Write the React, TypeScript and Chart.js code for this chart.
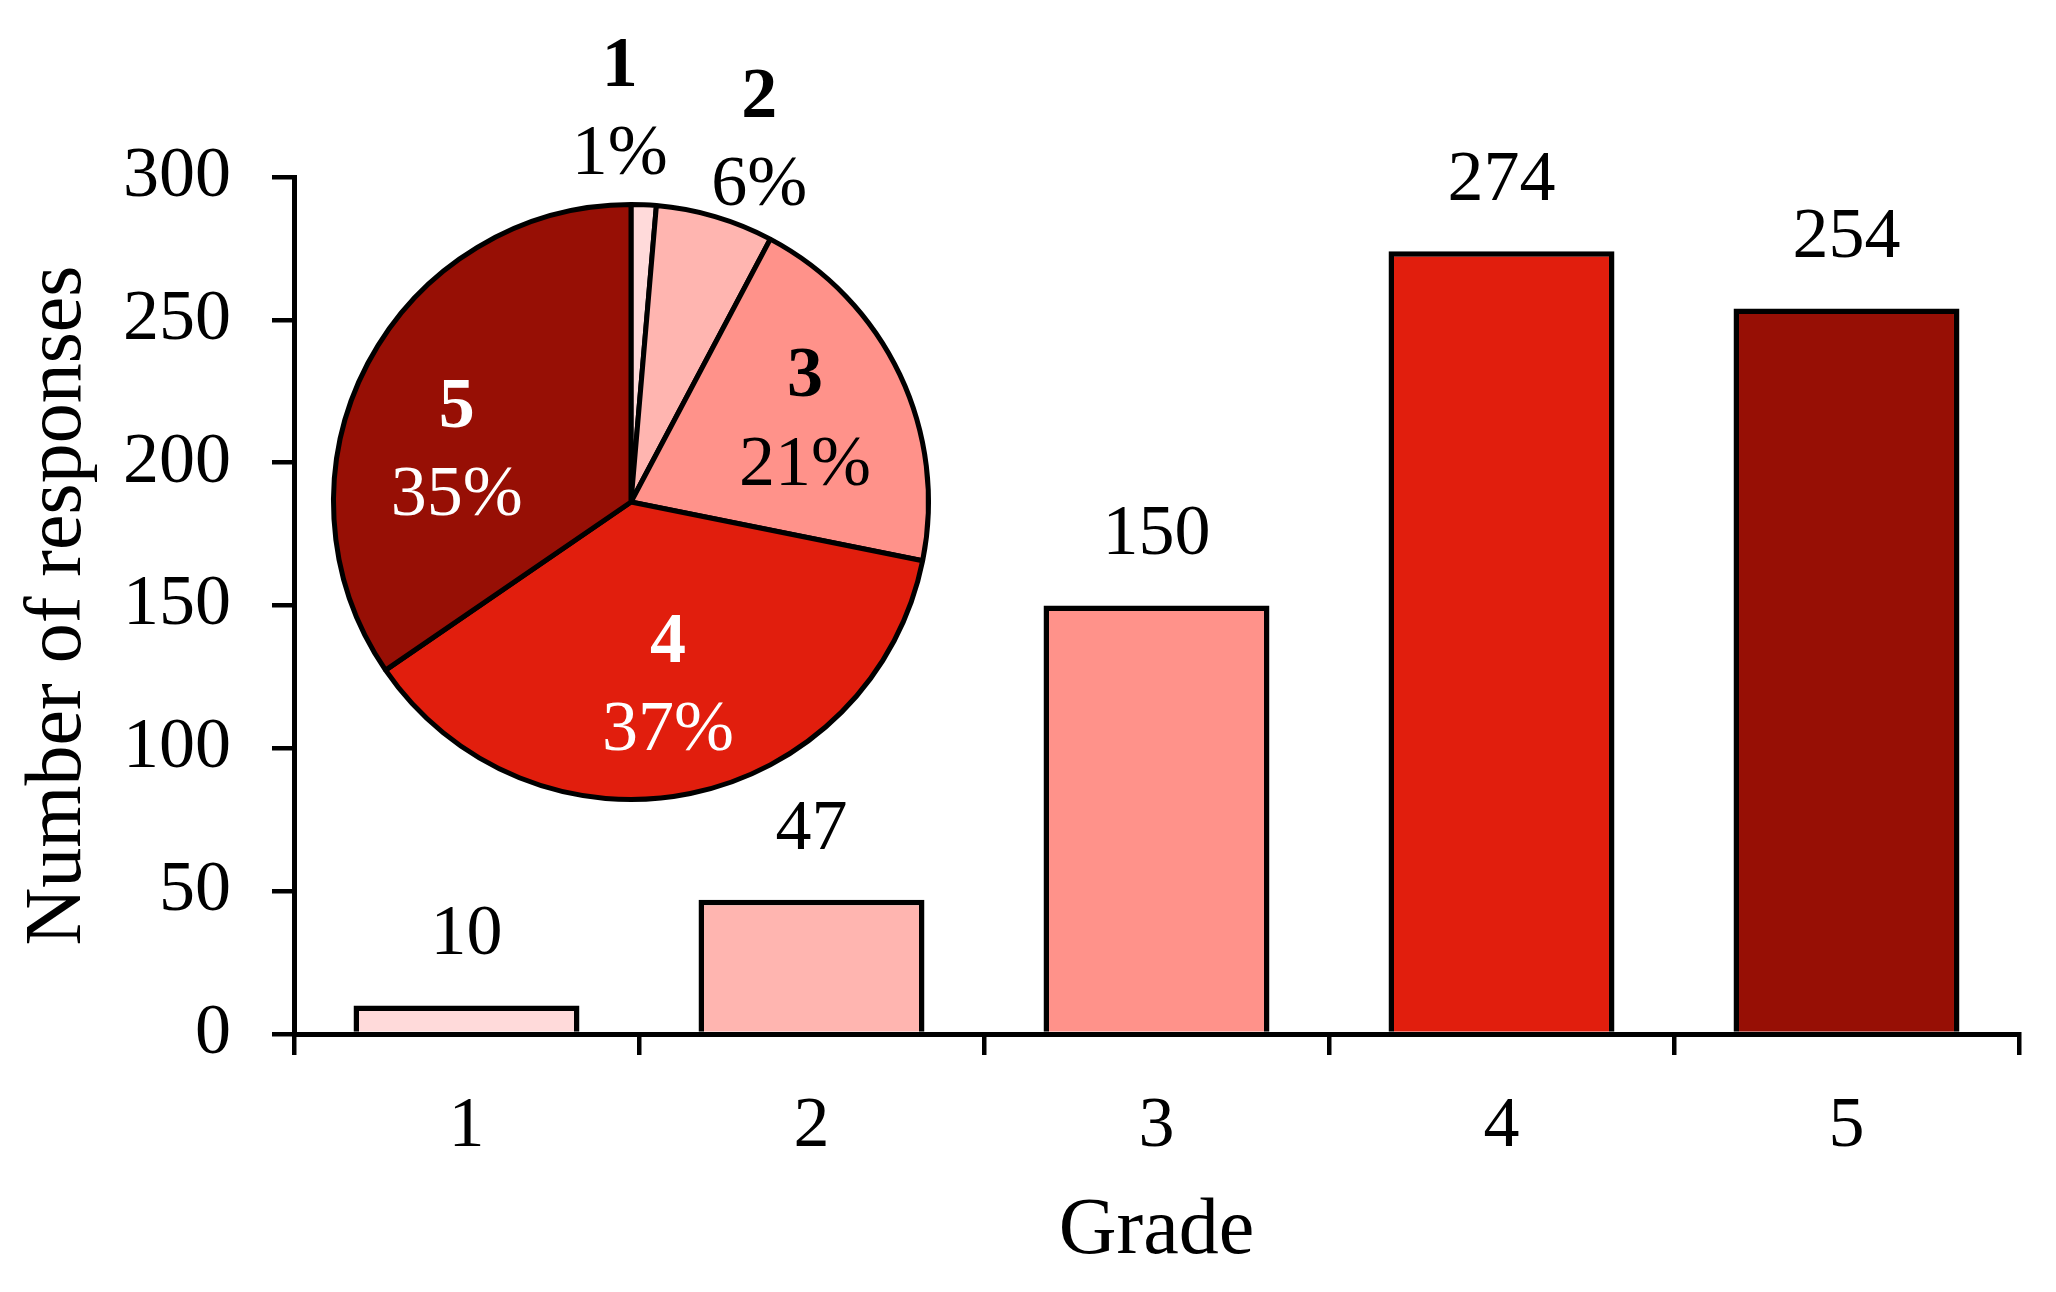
import { useEffect, useRef } from 'react';
import { Chart, registerables } from 'chart.js';

Chart.register(...registerables);

// ---- data ----
const grades = ['1', '2', '3', '4', '5'];
const responses = [10, 47, 150, 274, 254];
const gradeColors = ['#FFDADA', '#FFB5B0', '#FF928A', '#E11E0D', '#970F05'];
const piePercentLabels = ['1%', '6%', '21%', '37%', '35%'];
const pieLabelColors = ['#000000', '#000000', '#000000', '#FFFFFF', '#FFFFFF'];
const yMin = 0;
const yMax = 300;
const yStep = 50;

const FONT = '"Liberation Serif", "Times New Roman", serif';
const W = 2056;
const H = 1292;

// label placement for pie labels: angle shift from slice middle (deg) and radius factor
const pieLabelPlacement = [
  { shift: -4.1, factor: 1.305 },
  { shift: 3.2, factor: 1.275 },
  { shift: 0.6, factor: 0.64 },
  { shift: 0.2, factor: 0.63 },
  { shift: -11.8, factor: 0.605 },
];

const barLabelsPlugin = {
  id: 'barLabels',
  afterDatasetsDraw(chart: any) {
    const ctx = chart.ctx;
    const meta = chart.getDatasetMeta(0);
    ctx.save();
    ctx.font = `72px ${FONT}`;
    ctx.fillStyle = '#000';
    ctx.textAlign = 'center';
    ctx.textBaseline = 'middle';
    meta.data.forEach((el: any, i: number) => {
      ctx.fillText(String(responses[i]), el.x, el.y - 70);
    });
    ctx.restore();
  },
};

const pieLabelsPlugin = {
  id: 'pieLabels',
  afterDatasetsDraw(chart: any) {
    const ctx = chart.ctx;
    const meta = chart.getDatasetMeta(0);
    ctx.save();
    ctx.textAlign = 'center';
    ctx.textBaseline = 'middle';
    meta.data.forEach((arc: any, i: number) => {
      const p = arc.getProps(['x', 'y', 'startAngle', 'endAngle', 'outerRadius'], true);
      const pl = pieLabelPlacement[i];
      const a = (p.startAngle + p.endAngle) / 2 + (pl.shift * Math.PI) / 180;
      const r = (p.outerRadius + 2) * pl.factor;
      const cx = p.x + Math.cos(a) * r;
      const cy = p.y + Math.sin(a) * r;
      ctx.fillStyle = pieLabelColors[i];
      ctx.font = `bold 72px ${FONT}`;
      ctx.fillText(grades[i], cx, cy - 44);
      ctx.font = `72px ${FONT}`;
      ctx.fillText(piePercentLabels[i], cx, cy + 44);
    });
    ctx.restore();
  },
};

export default function App() {
  const barRef = useRef<HTMLCanvasElement | null>(null);
  const pieRef = useRef<HTMLCanvasElement | null>(null);

  useEffect(() => {
    if (!barRef.current || !pieRef.current) return;
    const bar = new Chart(barRef.current, {
      type: 'bar',
      data: {
        labels: grades,
        datasets: [
          {
            data: responses,
            backgroundColor: gradeColors,
            borderColor: '#000000',
            borderWidth: 5.5,
            categoryPercentage: 1,
            barPercentage: 0.655,
          },
        ],
      },
      options: {
        responsive: false,
        animation: false,
        events: [],
        layout: { padding: { left: 0, top: 177, right: 37, bottom: 0 } },
        plugins: { legend: { display: false }, tooltip: { enabled: false } },
        scales: {
          x: {
            grid: {
              display: true,
              drawOnChartArea: false,
              drawTicks: true,
              tickLength: 21,
              color: '#000000',
              lineWidth: 4.5,
              offset: true,
            },
            border: { display: true, color: '#000000', width: 5 },
            ticks: {
              color: '#000000',
              font: { family: FONT, size: 72 },
              padding: 29,
              maxRotation: 0,
              autoSkip: false,
            },
            title: {
              display: true,
              text: 'Grade',
              color: '#000000',
              font: { family: FONT, size: 80 },
              padding: { top: 0, bottom: 12 },
            },
            afterFit(s: any) {
              s.height = 258;
            },
          },
          y: {
            min: yMin,
            max: yMax,
            ticks: {
              stepSize: yStep,
              color: '#000000',
              font: { family: FONT, size: 72 },
              padding: 41,
            },
            grid: {
              display: true,
              drawOnChartArea: false,
              drawTicks: true,
              tickLength: 22,
              color: '#000000',
              lineWidth: 4.5,
            },
            border: { display: true, color: '#000000', width: 5 },
            title: {
              display: true,
              text: 'Number of responses',
              color: '#000000',
              font: { family: FONT, size: 80 },
              padding: { top: 11, bottom: 0 },
            },
            afterFit(s: any) {
              s.width = 294;
            },
          },
        },
      } as any,
      plugins: [barLabelsPlugin],
    });

    const pie = new Chart(pieRef.current, {
      type: 'pie',
      data: {
        labels: grades,
        datasets: [
          {
            data: responses,
            backgroundColor: gradeColors,
            borderColor: '#000000',
            borderWidth: 5,
          },
        ],
      },
      options: {
        responsive: false,
        animation: false,
        events: [],
        layout: { padding: { left: 331, top: 202, right: 1125, bottom: 490 } },
        plugins: { legend: { display: false }, tooltip: { enabled: false } },
      } as any,
      plugins: [pieLabelsPlugin],
    });

    return () => {
      bar.destroy();
      pie.destroy();
    };
  }, []);

  return (
    <div
      style={{
        position: 'absolute',
        left: 0,
        top: 0,
        width: W,
        height: H,
        background: '#ffffff',
        overflow: 'hidden',
      }}
    >
      <canvas ref={barRef} width={W} height={H} style={{ position: 'absolute', left: 0, top: 0, display: 'block' }} />
      <canvas
        ref={pieRef}
        width={W}
        height={H}
        style={{ position: 'absolute', left: 0, top: 0, display: 'block', pointerEvents: 'none' }}
      />
    </div>
  );
}
